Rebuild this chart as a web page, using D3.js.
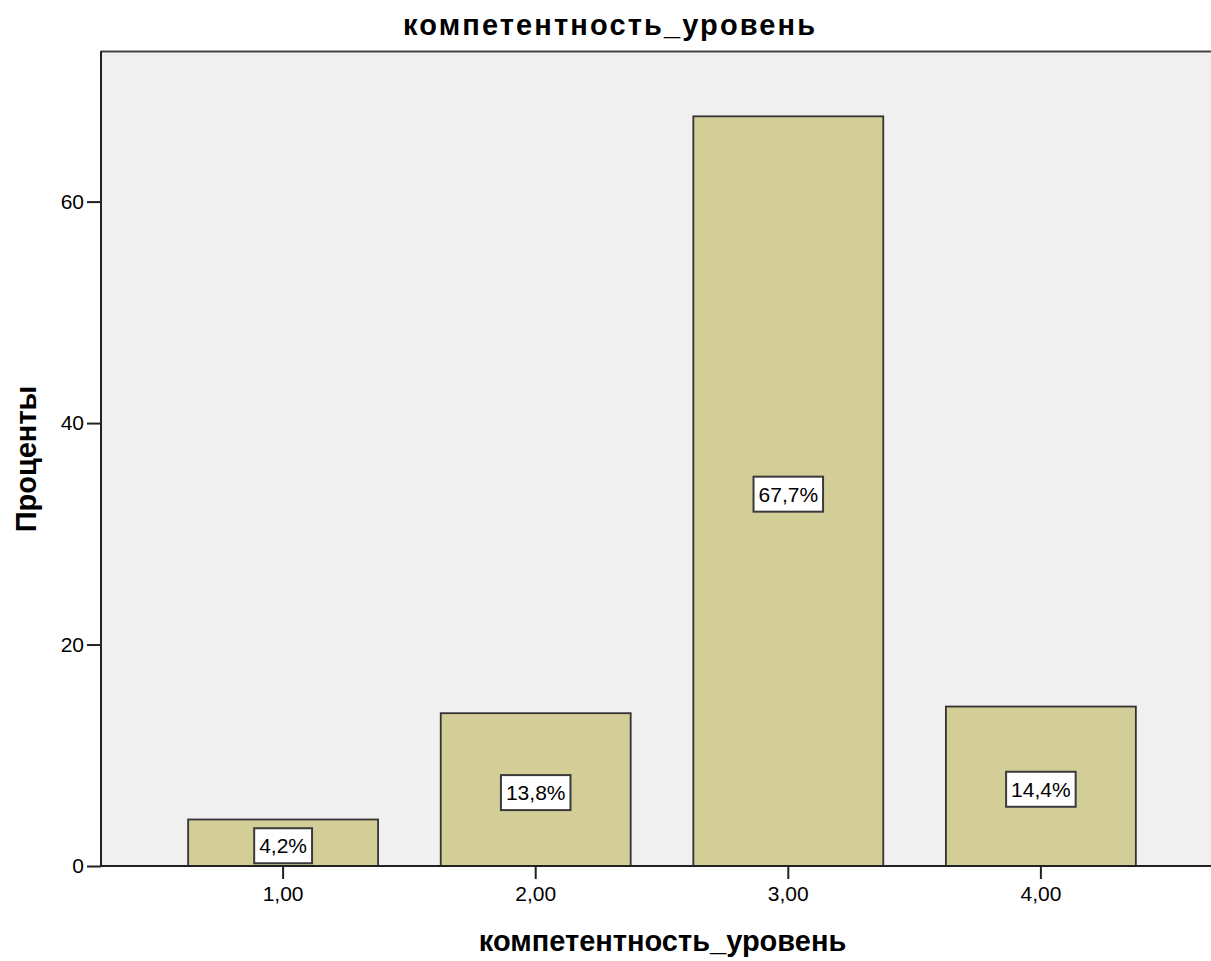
<!DOCTYPE html>
<html>
<head>
<meta charset="utf-8">
<script src="https://cdn.jsdelivr.net/npm/d3@7"></script>
<style>
  html, body { margin: 0; padding: 0; background: #fff; }
  svg { display: block; }
  text { font-family: "Liberation Sans", Arial, sans-serif; fill: #000; }
</style>
</head>
<body>
<svg id="chart" width="1211" height="961"></svg>
<script>
const categories = ["1,00", "2,00", "3,00", "4,00"];
const percents = [4.2, 13.8, 67.7, 14.4];
const labels = ["4,2%", "13,8%", "67,7%", "14,4%"];
const yTicks = [0, 20, 40, 60];
const titleText = "компетентность_уровень";
const xTitleText = "компетентность_уровень";
const yTitleText = "Проценты";

const W = 1211, H = 961;
const plot = { left: 101, top: 51, right: 1211, bottom: 866 };

const svg = d3.select("#chart");

const x = d3.scaleBand()
  .domain(categories)
  .range([101, 1223])
  .paddingInner(0.248)
  .paddingOuter(0.345);

const y = d3.scaleLinear()
  .domain([0, 73.6])
  .range([plot.bottom, plot.top]);

// plot background
svg.append("rect")
  .attr("x", plot.left).attr("y", plot.top)
  .attr("width", plot.right - plot.left).attr("height", plot.bottom - plot.top)
  .attr("fill", "#f0f0f0");

// top border
svg.append("line")
  .attr("x1", plot.left).attr("x2", plot.right)
  .attr("y1", plot.top + 0.5).attr("y2", plot.top + 0.5)
  .attr("stroke", "#444").attr("stroke-width", 2);

// bars
svg.selectAll("rect.bar")
  .data(percents)
  .join("rect")
  .attr("class", "bar")
  .attr("x", (d, i) => x(categories[i]))
  .attr("y", d => y(d))
  .attr("width", x.bandwidth())
  .attr("height", d => y(0) - y(d))
  .attr("fill", "#d3ce98")
  .attr("stroke", "#333")
  .attr("stroke-width", 1.8);

// axes
const yAxis = d3.axisLeft(y).tickValues(yTicks).tickSize(14).tickPadding(3).tickFormat(d3.format("d"));
const gy = svg.append("g").attr("transform", `translate(${plot.left},0)`).call(yAxis);
gy.select(".domain").remove();
gy.append("line").attr("x1", 0).attr("x2", 0).attr("y1", plot.top).attr("y2", plot.bottom)
  .attr("stroke", "#222").attr("stroke-width", 2);
gy.selectAll(".tick line").attr("stroke", "#222").attr("stroke-width", 2);
gy.selectAll(".tick text").style("font-size", "21px").attr("fill", "#222");

const xAxis = d3.axisBottom(x).tickSize(13).tickPadding(7);
const gx = svg.append("g").attr("transform", `translate(0,${plot.bottom})`).call(xAxis);
gx.select(".domain").remove();
gx.append("line").attr("x1", plot.left).attr("x2", plot.right).attr("y1", 0).attr("y2", 0)
  .attr("stroke", "#222").attr("stroke-width", 2);
gx.selectAll(".tick line").attr("stroke", "#222").attr("stroke-width", 2);
gx.selectAll(".tick text").style("font-size", "21px").attr("fill", "#222");

// value labels
const lg = svg.selectAll("g.lbl")
  .data(percents)
  .join("g")
  .attr("class", "lbl")
  .attr("transform", (d, i) => `translate(${x(categories[i]) + x.bandwidth() / 2},${y(d / 2) + 3})`);

lg.append("text")
  .attr("text-anchor", "middle")
  .attr("dy", "0.35em")
  .style("font-size", "21px")
  .text((d, i) => labels[i]);

lg.each(function () {
  const g = d3.select(this);
  const t = g.select("text");
  const bb = t.node().getBBox();
  const pw = 5, h = 35;
  g.insert("rect", "text")
    .attr("x", bb.x - pw).attr("y", -h / 2)
    .attr("width", bb.width + 2 * pw).attr("height", h)
    .attr("fill", "#fff").attr("stroke", "#3a3a3a").attr("stroke-width", 2);
});

// titles
svg.append("text")
  .attr("x", 609).attr("y", 35)
  .attr("text-anchor", "middle")
  .attr("textLength", 412).attr("lengthAdjust", "spacing")
  .style("font-size", "29px").style("font-weight", "bold")
  .text(titleText);

svg.append("text")
  .attr("x", 662.5).attr("y", 951)
  .attr("text-anchor", "middle")
  .style("font-size", "29px").style("font-weight", "bold")
  .text(xTitleText);

svg.append("text")
  .attr("transform", `translate(36,459) rotate(-90)`)
  .attr("text-anchor", "middle")
  .style("font-size", "29px").style("font-weight", "bold")
  .text(yTitleText);
</script>
</body>
</html>
